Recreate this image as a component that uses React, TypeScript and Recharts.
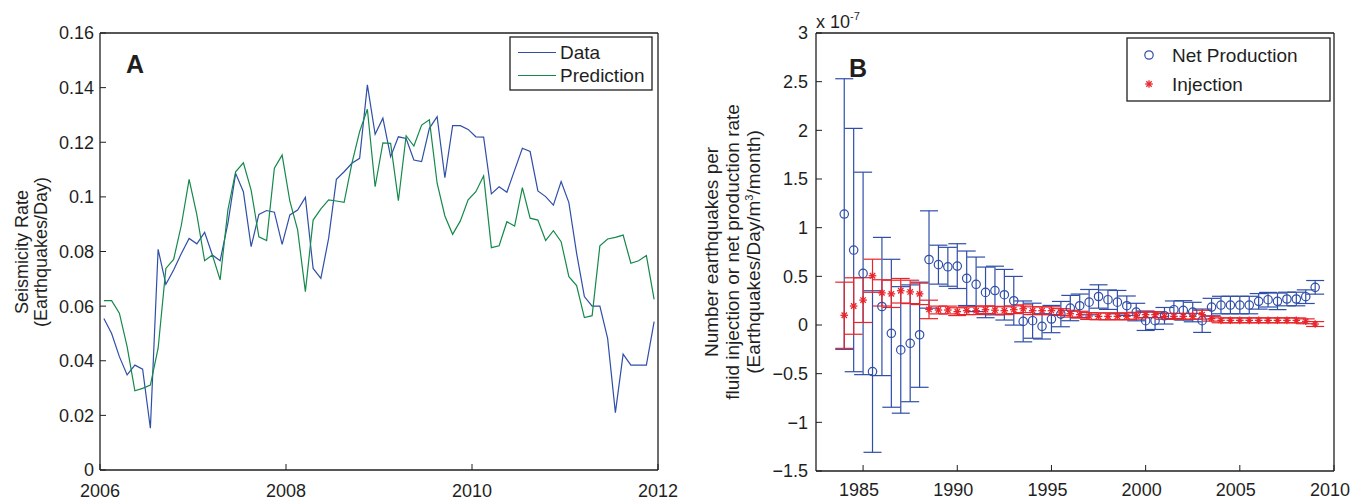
import React from "react";
import { LineChart, Line, ScatterChart, Scatter, ErrorBar, XAxis, YAxis } from "recharts";

const FONT = '"Liberation Sans", Arial, Helvetica, sans-serif';
const BLUE = "#2f4ea8";
const GREEN = "#14894a";
const RED = "#e8242b";
const INK = "#1f1f1f";

// Panel A: monthly seismicity rate, Jan 2006 .. Dec 2011
const startYear = 2006;
const seismicData = [
  0.0555, 0.050, 0.0415, 0.0348, 0.0384, 0.0369, 0.0153, 0.0808, 0.068, 0.0732, 0.0793, 0.0848,
  0.0828, 0.087, 0.0787, 0.0766, 0.0903, 0.1086, 0.1019, 0.0818, 0.0936, 0.095, 0.0944, 0.0826,
  0.0934, 0.0952, 0.0998, 0.0738, 0.0702, 0.0848, 0.1064, 0.1092, 0.1123, 0.1141, 0.141, 0.1229,
  0.1288, 0.1147, 0.122, 0.1214, 0.1135, 0.1129, 0.1251, 0.1294, 0.107, 0.1261, 0.1261, 0.1247,
  0.122, 0.1219, 0.1011, 0.1037, 0.1017, 0.1098, 0.1178, 0.1166, 0.1022, 0.1001, 0.097, 0.1056,
  0.0979, 0.0793, 0.0635, 0.06, 0.06, 0.0482, 0.021, 0.0424, 0.0384, 0.0384, 0.0384, 0.0543,
];
const seismicPrediction = [
  0.062, 0.062, 0.0574, 0.0452, 0.029, 0.0299, 0.0311, 0.0446, 0.0738, 0.0771, 0.0897, 0.1064,
  0.0934, 0.0766, 0.0787, 0.0696, 0.0952, 0.1092, 0.1125, 0.1025, 0.0854, 0.084, 0.1105, 0.1153,
  0.0984, 0.0879, 0.0653, 0.0915, 0.0956, 0.0989, 0.0985, 0.098, 0.1123, 0.1239, 0.1321, 0.1037,
  0.1198, 0.1196, 0.0986, 0.1224, 0.1186, 0.1263, 0.1282, 0.105, 0.093, 0.0863, 0.0912, 0.0989,
  0.1019, 0.1077, 0.0814, 0.0821, 0.0909, 0.0893, 0.1034, 0.0922, 0.0915, 0.084, 0.0876, 0.0836,
  0.0708, 0.0675, 0.0558, 0.0565, 0.0821, 0.0846, 0.0852, 0.086, 0.0757, 0.0766, 0.0785, 0.0625,
];
const yearTicksA = [2006, 2008, 2010, 2012];
const rateTicks = [0, 0.02, 0.04, 0.06, 0.08, 0.1, 0.12, 0.14, 0.16];

// Panel B: half-year bins 1984.0 .. 2009.0, values in units of 1e-7
const firstBin = 1984;
const netProduction = [
  1.14, 0.77, 0.53, -0.478, 0.19, -0.085, -0.256, -0.188, -0.1, 0.673, 0.62, 0.598, 0.605,
  0.48, 0.418, 0.335, 0.354, 0.311, 0.249, 0.037, 0.044, -0.014, 0.061, 0.112, 0.174, 0.198,
  0.235, 0.293, 0.26, 0.235, 0.198, 0.133, 0.044, 0.044, 0.095, 0.157, 0.15, 0.133, 0.044,
  0.184, 0.205, 0.205, 0.205, 0.205, 0.243, 0.26, 0.243, 0.267, 0.267, 0.291, 0.387,
];
const netProductionErr = [
  1.39, 1.25, 1.04, 0.83, 0.71, 0.76, 0.65, 0.6, 0.54, 0.5, 0.2, 0.2, 0.23,
  0.28, 0.28, 0.26, 0.25, 0.26, 0.25, 0.21, 0.18, 0.13, 0.14, 0.13, 0.13, 0.12,
  0.13, 0.12, 0.1, 0.12, 0.1, 0.09, 0.1, 0.09, 0.085, 0.09, 0.1, 0.1, 0.12,
  0.09, 0.09, 0.09, 0.09, 0.09, 0.08, 0.075, 0.085, 0.07, 0.07, 0.07, 0.07,
];
const injection = [
  0.1, 0.195, 0.256, 0.506, 0.33, 0.32, 0.352, 0.34, 0.32, 0.16, 0.154, 0.154, 0.137,
  0.147, 0.147, 0.157, 0.152, 0.147, 0.157, 0.167, 0.147, 0.147, 0.147, 0.133, 0.116, 0.106,
  0.092, 0.089, 0.089, 0.089, 0.089, 0.095, 0.106, 0.106, 0.089, 0.089, 0.089, 0.089, 0.106,
  0.065, 0.048, 0.048, 0.048, 0.048, 0.048, 0.048, 0.048, 0.048, 0.048, 0.038, 0.01,
];
const injectionErr = [
  0.34, 0.29, 0.23, 0.17, 0.135, 0.14, 0.126, 0.12, 0.11, 0.095, 0.04, 0.04, 0.04,
  0.04, 0.04, 0.04, 0.04, 0.04, 0.04, 0.04, 0.04, 0.04, 0.04, 0.035, 0.035, 0.035,
  0.035, 0.035, 0.035, 0.035, 0.035, 0.035, 0.03, 0.03, 0.03, 0.03, 0.03, 0.03, 0.045,
  0.025, 0.025, 0.025, 0.025, 0.025, 0.025, 0.025, 0.025, 0.025, 0.025, 0.025, 0.025,
];
const yearTicksB = [1985, 1990, 1995, 2000, 2005, 2010];
const ratioTicks = [-1.5, -1, -0.5, 0, 0.5, 1, 1.5, 2, 2.5, 3];

const rowsA = seismicData.map((v, i) => ({
  t: startYear + (i + 0.5) / 12,
  data: v,
  pred: seismicPrediction[i],
}));
const netRows = netProduction.map((v, i) => ({ year: firstBin + i / 2, v, err: netProductionErr[i] }));
const injRows = injection.map((v, i) => ({ year: firstBin + i / 2, v, err: injectionErr[i] }));

const axisLine = { stroke: INK, strokeWidth: 1.3 };
const tickLine = { stroke: INK, strokeWidth: 1 };
const tickStyle = { fill: INK, fontSize: 18, fontFamily: FONT };

const fmtRate = (v: number) => String(Number(v.toFixed(2)));
const fmtRatio = (v: number) => (v < 0 ? "\u2212" + String(-v) : String(v));

const Circle = (p: any) => (
  <circle cx={p.cx} cy={p.cy} r={4.2} fill="none" stroke={BLUE} strokeWidth={1.2} />
);

const Star = (p: any) => {
  const { cx, cy } = p;
  const r = 3.8;
  const d = r * 0.707;
  return (
    <g stroke={RED} strokeWidth={1.3}>
      <line x1={cx - r} y1={cy} x2={cx + r} y2={cy} />
      <line x1={cx} y1={cy - r} x2={cx} y2={cy + r} />
      <line x1={cx - d} y1={cy - d} x2={cx + d} y2={cy + d} />
      <line x1={cx - d} y1={cy + d} x2={cx + d} y2={cy - d} />
    </g>
  );
};

function PanelA() {
  return (
    <LineChart width={690} height={500} data={rowsA} margin={{ top: 28, right: 22, bottom: 0, left: 0 }}>
      <XAxis dataKey="t" type="number" domain={[2006, 2012]} ticks={yearTicksA} interval={0}
        height={30} axisLine={axisLine} tickLine={tickLine} tickSize={-6} tickMargin={20} tick={tickStyle} />
      <XAxis xAxisId="top" orientation="top" dataKey="t" type="number" domain={[2006, 2012]} ticks={yearTicksA}
        interval={0} height={5} axisLine={axisLine} tickLine={tickLine} tickSize={-6} tick={false} />
      <YAxis type="number" domain={[0, 0.16]} ticks={rateTicks} interval={0} width={100}
        axisLine={axisLine} tickLine={tickLine} tickSize={-6} tickMargin={12} tick={tickStyle}
        tickFormatter={fmtRate} />
      <YAxis yAxisId="right" orientation="right" type="number" domain={[0, 0.16]} ticks={rateTicks}
        interval={0} width={10} axisLine={axisLine} tickLine={tickLine} tickSize={-6} tick={false} />
      <Line type="linear" dataKey="data" stroke={BLUE} strokeWidth={1.2} dot={false} isAnimationActive={false} />
      <Line type="linear" dataKey="pred" stroke={GREEN} strokeWidth={1.2} dot={false} isAnimationActive={false} />
    </LineChart>
  );
}

function PanelB() {
  return (
    <ScatterChart width={671} height={500} margin={{ top: 28, right: 17, bottom: 0, left: 0 }}>
      <XAxis dataKey="year" type="number" domain={[1982.5, 2010]} ticks={yearTicksB} interval={0}
        height={29} axisLine={axisLine} tickLine={tickLine} tickSize={-6} tickMargin={18}
        tick={{ ...tickStyle, dx: -4 }} />
      <XAxis xAxisId="top" orientation="top" dataKey="year" type="number" domain={[1982.5, 2010]}
        ticks={yearTicksB} interval={0} height={5} axisLine={axisLine} tickLine={tickLine} tickSize={-6} tick={false} />
      <YAxis dataKey="v" type="number" domain={[-1.5, 3]} ticks={ratioTicks} interval={0} width={126}
        allowDataOverflow axisLine={axisLine} tickLine={tickLine} tickSize={-6} tickMargin={14}
        tick={tickStyle} tickFormatter={fmtRatio} />
      <YAxis yAxisId="right" orientation="right" dataKey="v" type="number" domain={[-1.5, 3]}
        ticks={ratioTicks} interval={0} width={10} allowDataOverflow axisLine={axisLine} tickLine={tickLine}
        tickSize={-6} tick={false} />
      <Scatter data={netRows} dataKey="v" shape={Circle} isAnimationActive={false}>
        <ErrorBar dataKey="err" direction="y" width={9} stroke={BLUE} strokeWidth={1.2} isAnimationActive={false} />
      </Scatter>
      <Scatter data={injRows} dataKey="v" shape={Star} isAnimationActive={false}>
        <ErrorBar dataKey="err" direction="y" width={9} stroke={RED} strokeWidth={1.2} isAnimationActive={false} />
      </Scatter>
    </ScatterChart>
  );
}

export default function App() {
  return (
    <div style={{ position: "absolute", left: 0, top: 0, width: 1361, height: 500, background: "#fff", fontFamily: FONT }}>
      <div style={{ position: "absolute", left: 0, top: 0 }}>
        <PanelA />
      </div>
      <div style={{ position: "absolute", left: 690, top: 0 }}>
        <PanelB />
      </div>
      <svg width={1361} height={500} style={{ position: "absolute", left: 0, top: 0, pointerEvents: "none" }}
        fontFamily={FONT} fill={INK}>
        <text x={126} y={73} fontSize={25} fontWeight="bold">A</text>
        <text x={849} y={77} fontSize={25} fontWeight="bold">B</text>

        <text transform="translate(28,252) rotate(-90)" textAnchor="middle" fontSize={18}>Seismicity Rate</text>
        <text transform="translate(47,252) rotate(-90)" textAnchor="middle" fontSize={18}>(Earthquakes/Day)</text>

        <text transform="translate(718,252) rotate(-90)" textAnchor="middle" fontSize={19}>Number earthquakes per</text>
        <text transform="translate(739,252) rotate(-90)" textAnchor="middle" fontSize={19}>fluid injection or net production rate</text>
        <text transform="translate(760,252) rotate(-90)" textAnchor="middle" fontSize={19}>
          (Earthquakes/Day/m<tspan dy={-7} fontSize={11}>3</tspan><tspan dy={7}>/month)</tspan>
        </text>

        <text x={816} y={28} fontSize={18}>
          x 10<tspan dy={-8} fontSize={11}>-7</tspan>
        </text>

        {/* legend A */}
        <rect x={510} y={37} width={142} height={53} fill="#fff" stroke={INK} strokeWidth={1.3} />
        <line x1={518} y1={52.5} x2={556} y2={52.5} stroke={BLUE} strokeWidth={1.2} />
        <line x1={518} y1={75.5} x2={556} y2={75.5} stroke={GREEN} strokeWidth={1.2} />
        <text x={560} y={59} fontSize={19}>Data</text>
        <text x={560} y={82} fontSize={19}>Prediction</text>

        {/* legend B */}
        <rect x={1127} y={38} width={203} height={63} fill="#fff" stroke={INK} strokeWidth={1.3} />
        <Circle cx={1149} cy={55} />
        <Star cx={1149} cy={84} />
        <text x={1172} y={61.5} fontSize={19}>Net Production</text>
        <text x={1172} y={90.5} fontSize={19}>Injection</text>
      </svg>
    </div>
  );
}
